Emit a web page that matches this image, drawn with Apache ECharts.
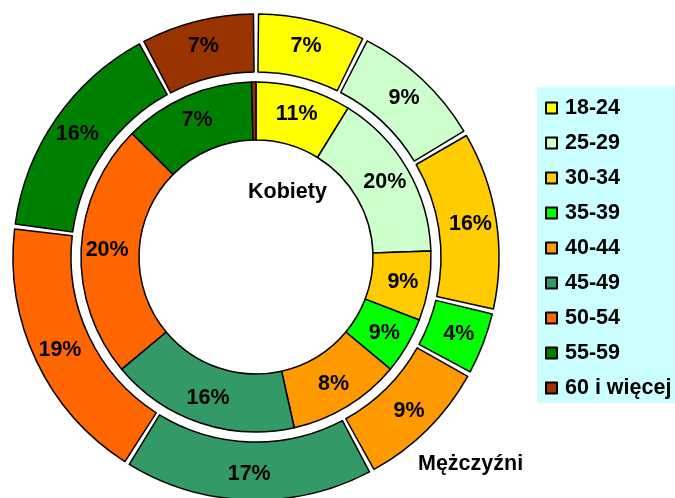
<!DOCTYPE html>
<html>
<head>
<meta charset="utf-8">
<script src="https://cdn.jsdelivr.net/npm/echarts@6/dist/echarts.min.js"></script>
<style>
  html, body { margin: 0; padding: 0; background: #fff; }
  #chart { width: 675px; height: 498px; }
</style>
</head>
<body>
<div id="chart"></div>
<script>
// age groups + colours (legend order)
const ageGroups = ['18-24', '25-29', '30-34', '35-39', '40-44', '45-49', '50-54', '55-59', '60 i więcej']
const groupColors = ['#FFFF00', '#CCFFCC', '#FFCC00', '#00FF00', '#FF9900', '#339966', '#FF6600', '#008000', '#993300']

// slice sizes as drawn in the picture, and the labels printed on them
const kobietyShare = [8.8, 15.6, 6.4, 5.2, 10.4, 17.4, 23.5, 12.1, 0.4]
const kobietyLabels = ['11%', '20%', '9%', '9%', '8%', '16%', '20%', '7%', '']
const mezczyzniShare = [7.4, 9.1, 12.1, 4.4, 9.1, 16.8, 18.1, 15.2, 7.8]
const mezczyzniLabels = ['7%', '9%', '16%', '4%', '9%', '17%', '19%', '16%', '7%']

const font = "'Liberation Sans', Arial, sans-serif"
const fontSize = 21.5

function toData(values) {
  return values.map(function (v, i) {
    return { name: ageGroups[i], value: v, itemStyle: { color: groupColors[i] } }
  })
}

function ringLabel(texts) {
  return {
    show: true,
    position: 'inside',
    fontFamily: font,
    fontWeight: 'bold',
    fontSize: fontSize,
    color: '#000',
    formatter: function (p) { return texts[p.dataIndex] }
  }
}

const chart = echarts.init(document.getElementById('chart'), null, { renderer: 'canvas' })

const option = {
  animation: false,
  backgroundColor: '#fff',
  graphic: [
    {
      type: 'rect',
      z: -1,
      shape: { x: 537, y: 87, width: 140, height: 316 },
      style: { fill: '#CCFFFF' }
    },
    {
      type: 'text',
      left: 248, top: 181,
      style: { text: 'Kobiety', font: 'bold ' + fontSize + 'px ' + font, fill: '#000' }
    },
    {
      type: 'text',
      left: 418, top: 453,
      style: { text: 'Mężczyźni', font: 'bold ' + fontSize + 'px ' + font, fill: '#000' }
    }
  ],
  legend: {
    orient: 'vertical',
    left: 545,
    top: 97,
    padding: 0,
    icon: 'rect',
    itemWidth: 11,
    itemHeight: 11,
    itemGap: 13,
    data: ageGroups,
    textStyle: { fontFamily: font, fontWeight: 'bold', fontSize: fontSize, lineHeight: 20, color: '#000', padding: [0, 0, 0, 3] }
  },
  series: [
    {
      name: 'Kobiety',
      type: 'pie',
      center: [256, 257],
      radius: [117, 175],
      startAngle: 90,
      clockwise: true,
      silent: true,
      itemStyle: { borderColor: '#000', borderWidth: 1.5 },
      label: ringLabel(kobietyLabels),
      labelLine: { show: false },
      data: toData(kobietyShare)
    },
    {
      name: 'Mężczyźni',
      type: 'pie',
      center: [256, 257],
      radius: [185, 243],
      startAngle: 90,
      clockwise: true,
      padAngle: 1.2,
      silent: true,
      itemStyle: { borderColor: '#000', borderWidth: 1.5 },
      label: ringLabel(mezczyzniLabels),
      labelLine: { show: false },
      data: toData(mezczyzniShare)
    }
  ]
}

chart.setOption(option)
</script>
</body>
</html>
